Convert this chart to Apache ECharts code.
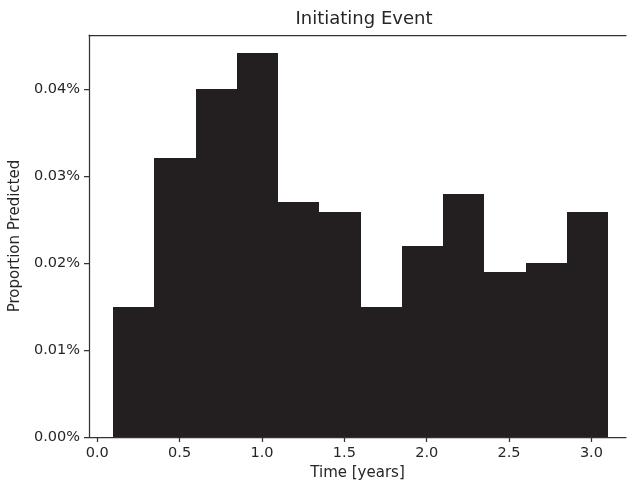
<!DOCTYPE html>
<html>
<head>
<meta charset="utf-8">
<script src="https://cdn.jsdelivr.net/npm/echarts@6/dist/echarts.min.js"></script>
<style>
  html, body { margin: 0; padding: 0; background: #fff; }
  #chart { width: 627px; height: 486px; }
</style>
</head>
<body>
<div id="chart"></div>
<script>
// histogram bins (years) and heights (percent)
const binEdges = [0.097, 0.347, 0.598, 0.848, 1.098, 1.349, 1.599, 1.849, 2.100, 2.350, 2.600, 2.851, 3.101];
const proportions = [0.0149, 0.0321, 0.0400, 0.0441, 0.0270, 0.0259, 0.0149, 0.0220, 0.0280, 0.0190, 0.0200, 0.0259];
const xTicks = [0, 0.5, 1, 1.5, 2, 2.5, 3];
const yTicks = [0, 0.01, 0.02, 0.03, 0.04];

const textColor = '#262626';
const lineColor = '#333333';
const font = 'DejaVu Sans';

var bars = [];
for (var i = 0; i < proportions.length; i++) {
  bars.push([binEdges[i], binEdges[i + 1], proportions[i]]);
}

var chart = echarts.init(document.getElementById('chart'), null, { renderer: 'canvas' });

var option = {
  backgroundColor: '#ffffff',
  animation: false,
  textStyle: { fontFamily: font, color: textColor },
  title: {
    text: 'Initiating Event',
    left: 359,
    top: 5,
    textAlign: 'center',
    textStyle: { fontFamily: font, fontSize: 18, fontWeight: 'normal', color: textColor }
  },
  grid: { left: 89, right: 1, top: 35, bottom: 48 },
  xAxis: [{
    type: 'value',
    min: -0.05,
    max: 3.21,
    name: 'Time [years]',
    nameLocation: 'middle',
    nameGap: 28,
    nameTextStyle: { fontFamily: font, fontSize: 15, color: textColor },
    axisLine: { show: true, onZero: false, lineStyle: { color: lineColor, width: 1.25 } },
    axisTick: { show: true, length: 5, customValues: xTicks, lineStyle: { color: lineColor, width: 1.25 } },
    axisLabel: {
      customValues: xTicks,
      margin: 9,
      fontFamily: font,
      fontSize: 14.5,
      color: textColor,
      formatter: function (v) { return v.toFixed(1); }
    },
    splitLine: { show: false }
  }, {
    type: 'value',
    position: 'top',
    min: -0.05,
    max: 3.21,
    axisLine: { show: true, onZero: false, lineStyle: { color: lineColor, width: 1.25 } },
    axisTick: { show: false },
    axisLabel: { show: false },
    splitLine: { show: false }
  }],
  yAxis: {
    type: 'value',
    min: 0,
    max: 0.04622,
    name: 'Proportion Predicted',
    nameLocation: 'middle',
    nameGap: 60,
    nameTextStyle: { fontFamily: font, fontSize: 15, color: textColor },
    axisLine: { show: true, onZero: false, lineStyle: { color: lineColor, width: 1.25 } },
    axisTick: { show: true, length: 5, customValues: yTicks, lineStyle: { color: lineColor, width: 1.25 } },
    axisLabel: {
      customValues: yTicks,
      margin: 9,
      fontFamily: font,
      fontSize: 14.5,
      color: textColor,
      formatter: function (v) { return v.toFixed(2) + '%'; }
    },
    splitLine: { show: false }
  },
  series: [{
    type: 'custom',
    xAxisIndex: 0,
    yAxisIndex: 0,
    data: bars,
    encode: { x: [0, 1], y: 2 },
    renderItem: function (params, api) {
      var topLeft = api.coord([api.value(0), api.value(2)]);
      var bottomRight = api.coord([api.value(1), 0]);
      // snap edges to whole pixels so neighbouring bars meet without seams
      var x0 = Math.round(topLeft[0]);
      var x1 = Math.round(bottomRight[0]);
      var y0 = Math.round(topLeft[1]);
      var y1 = Math.round(bottomRight[1]);
      return {
        type: 'rect',
        shape: { x: x0, y: y0, width: x1 - x0, height: y1 - y0 },
        style: { fill: '#231f20', stroke: null }
      };
    }
  }]
};

chart.setOption(option);
</script>
</body>
</html>
